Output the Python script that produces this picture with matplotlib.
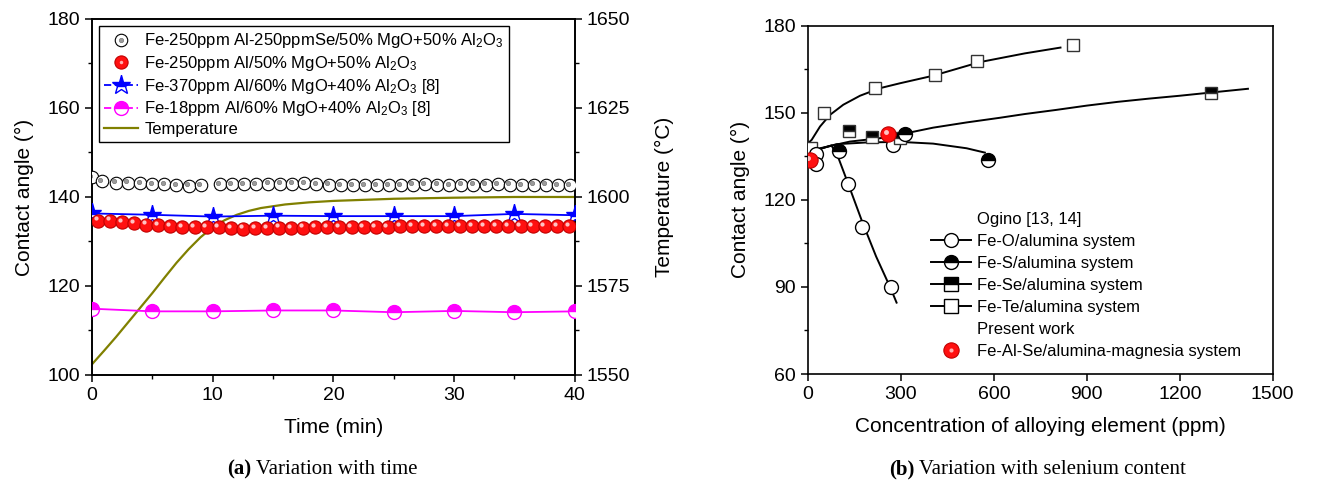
import matplotlib
matplotlib.use('Agg')
import matplotlib.pyplot as plt
from matplotlib.lines import Line2D
from matplotlib.legend_handler import HandlerTuple
from matplotlib.transforms import offset_copy
from matplotlib.ticker import MultipleLocator

plt.rcParams['font.family'] = ['Liberation Sans', 'DejaVu Sans']
plt.rcParams['mathtext.fontset'] = 'custom'
plt.rcParams['mathtext.rm'] = 'Liberation Sans'
plt.rcParams['mathtext.default'] = 'regular'

# ---------------- (a) contact angle vs time ----------------
se_t = [0, 0.8, 2, 3, 4, 5, 6, 7, 8, 9,
        10.6, 11.6, 12.6, 13.6, 14.6, 15.6, 16.6, 17.6, 18.6, 19.6,
        20.6, 21.6, 22.6, 23.6, 24.6, 25.6, 26.6, 27.6, 28.6, 29.6,
        30.6, 31.6, 32.6, 33.6, 34.6, 35.6, 36.6, 37.6, 38.6, 39.6]
se_ang = [144.4, 143.5, 143.2, 143.2, 143.1, 142.9, 142.9, 142.7, 142.5, 142.6,
          142.9, 142.9, 142.9, 142.9, 143.0, 143.0, 143.0, 143.1, 142.9, 142.8,
          142.7, 142.6, 142.6, 142.6, 142.6, 142.7, 142.8, 142.9, 142.8, 142.7,
          142.8, 142.8, 142.8, 142.9, 142.8, 142.7, 142.8, 142.8, 142.7, 142.7]

al_t = [0.5, 1.5, 2.5, 3.5, 4.5, 5.5, 6.5, 7.5, 8.5, 9.5,
        10.5, 11.5, 12.5, 13.5, 14.5, 15.5, 16.5, 17.5, 18.5, 19.5,
        20.5, 21.5, 22.5, 23.5, 24.5, 25.5, 26.5, 27.5, 28.5, 29.5,
        30.5, 31.5, 32.5, 33.5, 34.5, 35.5, 36.5, 37.5, 38.5, 39.5]
al_ang = [134.7, 134.7, 134.4, 134.1, 133.8, 133.6, 133.5, 133.2, 133.2, 133.2,
          133.2, 133.0, 132.9, 133.0, 133.0, 133.1, 133.0, 133.1, 133.2, 133.2,
          133.2, 133.2, 133.2, 133.2, 133.3, 133.4, 133.5, 133.5, 133.5, 133.5,
          133.5, 133.4, 133.4, 133.4, 133.4, 133.4, 133.4, 133.4, 133.4, 133.4]

ref370_t = [0, 5, 10, 15, 20, 25, 30, 35, 40]
ref370_ang = [136.3, 136.0, 135.6, 135.8, 135.7, 135.7, 135.7, 136.2, 135.9]

ref18_t = [0, 5, 10, 15, 20, 25, 30, 35, 40]
ref18_ang = [114.9, 114.3, 114.3, 114.5, 114.5, 114.1, 114.4, 114.1, 114.3]

temp_t = [0, 1, 2, 3, 4, 5, 6, 7, 8, 9, 10, 11, 12, 13, 14, 15, 16, 18, 20, 22.5, 25, 30, 35, 40]
temp_c = [1553.0, 1556.8, 1560.7, 1564.8, 1568.9, 1573.0, 1577.3, 1581.5, 1585.3, 1588.7,
          1591.5, 1593.5, 1595.0, 1596.1, 1596.9, 1597.4, 1597.9, 1598.5, 1598.9, 1599.2,
          1599.5, 1599.8, 1600.0, 1600.0]

# ---------------- (b) contact angle vs concentration ----------------
o_ppm = [25, 25, 130, 175, 267, 275]
o_ang = [135.8, 132.4, 125.4, 110.8, 90.1, 139.0]
o_fit_ppm = [0, 40, 76, 100, 130, 175, 220, 267, 286]
o_fit_ang = [136.0, 137.6, 138.8, 134.0, 125.5, 112.5, 100.5, 89.5, 84.6]

s_ppm = [101, 314, 582]
s_ang = [136.9, 142.8, 133.8]
s_fit_ppm = [0, 39, 92, 189, 297, 404, 512, 571]
s_fit_ang = [136.0, 137.6, 139.2, 139.8, 140.0, 139.4, 137.8, 136.3]

sel_ppm = [132, 206, 297, 1300]
sel_ang = [143.6, 141.6, 141.3, 157.0]
sel_fit_ppm = [0, 39, 135, 243, 318, 404, 512, 619, 700, 800, 900, 1000, 1100, 1200, 1300, 1420]
sel_fit_ang = [136.0, 137.8, 140.1, 141.4, 143.0, 144.9, 146.7, 148.3, 149.6, 151.0,
               152.5, 153.8, 154.9, 155.9, 157.0, 158.3]

te_ppm = [10, 52, 216, 411, 547, 855]
te_ang = [138.0, 149.8, 158.6, 163.0, 168.0, 173.3]
te_fit_ppm = [0, 12, 39, 71, 114, 168, 232, 297, 404, 555, 700, 815]
te_fit_ang = [139.5, 140.7, 145.3, 149.3, 152.8, 155.9, 158.5, 160.2, 162.8, 167.5, 170.5, 172.5]

pw_ppm = [6, 259]
pw_ang = [133.7, 142.8]

fig = plt.figure(figsize=(13.23, 4.87), dpi=100)
ax1 = fig.add_axes([0.0695, 0.230, 0.365, 0.731])
ax1t = ax1.twinx()
ax2 = fig.add_axes([0.6107, 0.232, 0.3513, 0.715])

def sphere(ax, x, y, color, ms, edge):
    ax.plot(x, y, 'o', ms=ms, mfc=color, mec=edge, mew=0.8, ls='none', zorder=5)
    hl = offset_copy(ax.transData, fig=fig, x=-1.6, y=1.6, units='points')
    ax.plot(x, y, 'o', ms=ms * 0.32, mfc='white', mec='none', alpha=0.75,
            transform=hl, zorder=6)

# temperature on the twin axis, drawn first so markers sit above
ax1t.plot(temp_t, temp_c, color='#808000', lw=1.6)
ax1t.set_ylim(1550, 1650)
ax1t.yaxis.set_major_locator(MultipleLocator(25))
ax1t.yaxis.set_minor_locator(MultipleLocator(12.5))
ax1t.set_ylabel('Temperature (°C)', fontsize=15, labelpad=18)
ax1t.tick_params(axis='y', which='major', labelsize=14, length=5, width=1.1, direction='out')
ax1t.tick_params(axis='y', which='minor', length=3, width=1.0, direction='out')
ax1.set_zorder(ax1t.get_zorder() + 1)
ax1.patch.set_visible(False)

ax1.plot(se_t, se_ang, 'o', ms=9, mfc='white', mec='black', mew=0.8, ls='none', zorder=4)
dot = offset_copy(ax1.transData, fig=fig, x=-1.2, y=1.0, units='points')
ax1.plot(se_t, se_ang, 'o', ms=3.2, mfc='#9a9a9a', mec='#6a6a6a', mew=0.4, ls='none',
         transform=dot, zorder=4)
sphere(ax1, al_t, al_ang, '#ff1010', 9.5, '#c00000')
ax1.plot(ref370_t, ref370_ang, '-', color='#0000ff', lw=1.3, marker='*', ms=14,
         mfc='#0000ff', mfcalt='white', fillstyle='top', mec='#0000ff', mew=1.0, zorder=4)
ax1.plot(ref18_t, ref18_ang, '-', color='#ff00ff', lw=1.3, marker='o', ms=10,
         mfc='#ff00ff', mfcalt='white', fillstyle='top', mec='#ff00ff', mew=1.0, zorder=4)

ax1.set_xlim(0, 40)
ax1.set_ylim(100, 180)
ax1.xaxis.set_major_locator(MultipleLocator(10))
ax1.xaxis.set_minor_locator(MultipleLocator(5))
ax1.yaxis.set_major_locator(MultipleLocator(20))
ax1.yaxis.set_minor_locator(MultipleLocator(10))
ax1.tick_params(which='major', labelsize=14, length=5, width=1.1, direction='out')
ax1.tick_params(which='minor', length=3, width=1.0, direction='out')
ax1.set_xlabel('Time (min)', fontsize=15, labelpad=10)
ax1.set_ylabel('Contact angle (°)', fontsize=15, labelpad=10)
for a in (ax1, ax1t):
    for sp in a.spines.values():
        sp.set_linewidth(1.2)

overlay = {tuple: HandlerTuple(ndivide=1, pad=0)}

h_se = (Line2D([], [], marker='o', ls='none', ms=9, mfc='white', mec='black', mew=0.8),
        Line2D([], [], marker='o', ls='none', ms=3.2, mfc='#9a9a9a', mec='#6a6a6a', mew=0.4))
h_al = (Line2D([], [], marker='o', ls='none', ms=9.5, mfc='#ff1010', mec='#c00000', mew=0.8),
        Line2D([], [], marker='o', ls='none', ms=2.5, mfc='#ffb0b0', mec='none'))
h_370 = Line2D([], [], color='#0000ff', lw=1.3, ls=(0, (4, 2)), marker='*', ms=14,
               mfc='#0000ff', mfcalt='white', fillstyle='top', mec='#0000ff')
h_18 = Line2D([], [], color='#ff00ff', lw=1.3, ls=(0, (4, 2)), marker='o', ms=10,
              mfc='#ff00ff', mfcalt='white', fillstyle='top', mec='#ff00ff')
h_temp = Line2D([], [], color='#808000', lw=1.6)
leg1 = ax1.legend([h_se, h_al, h_370, h_18, h_temp],
                  ['Fe-250ppm Al-250ppmSe/50% MgO+50% Al$_2$O$_3$',
                   'Fe-250ppm Al/50% MgO+50% Al$_2$O$_3$',
                   'Fe-370ppm Al/60% MgO+40% Al$_2$O$_3$ [8]',
                   'Fe-18ppm Al/60% MgO+40% Al$_2$O$_3$ [8]',
                   'Temperature'],
                  handler_map=overlay,
                  loc='upper left', bbox_to_anchor=(0.0, 1.0), borderaxespad=0.45,
                  fontsize=12, frameon=True, fancybox=False, edgecolor='black',
                  framealpha=1, handlelength=2.0, handletextpad=0.4,
                  labelspacing=0.22, borderpad=0.3)
leg1.get_frame().set_linewidth(1.0)

# ---------------- (b) ----------------
ax2.plot(o_fit_ppm, o_fit_ang, color='black', lw=1.4, zorder=2)
ax2.plot(s_fit_ppm, s_fit_ang, color='black', lw=1.4, zorder=2)
ax2.plot(sel_fit_ppm, sel_fit_ang, color='black', lw=1.4, zorder=2)
ax2.plot(te_fit_ppm, te_fit_ang, color='black', lw=1.4, zorder=2)

ax2.plot(te_ppm, te_ang, 's', ms=9, mfc='white', mec='#333333', mew=1.0, ls='none', zorder=3)
ax2.plot(o_ppm, o_ang, 'o', ms=10, mfc='white', mec='black', mew=1.0, ls='none', zorder=3)
ax2.plot(sel_ppm, sel_ang, 's', ms=9, mfc='black', mfcalt='white', fillstyle='top',
         mec='#333333', mew=1.0, ls='none', zorder=3)
ax2.plot(s_ppm, s_ang, 'o', ms=10, mfc='black', mfcalt='white', fillstyle='top',
         mec='black', mew=1.0, ls='none', zorder=3)
sphere(ax2, pw_ppm, pw_ang, '#ff1010', 11, '#c00000')

ax2.set_xlim(0, 1500)
ax2.set_ylim(60, 180)
ax2.xaxis.set_major_locator(MultipleLocator(300))
ax2.yaxis.set_major_locator(MultipleLocator(30))
ax2.yaxis.set_minor_locator(MultipleLocator(15))
ax2.tick_params(which='major', labelsize=14, length=5, width=1.1, direction='out')
ax2.tick_params(which='minor', length=3, width=1.0, direction='out')
ax2.set_xlabel('Concentration of alloying element (ppm)', fontsize=15, labelpad=10)
ax2.set_ylabel('Contact angle (°)', fontsize=15, labelpad=10)
for sp in ax2.spines.values():
    sp.set_linewidth(1.2)

blank = Line2D([], [], ls='none', marker=None)
hk = dict(color='black', lw=1.4, ms=10, mec='black', mew=1.0)
h_o = Line2D([], [], marker='o', mfc='white', **hk)
h_s = Line2D([], [], marker='o', mfc='black', mfcalt='white', fillstyle='top', **hk)
h_sel = Line2D([], [], marker='s', mfc='black', mfcalt='white', fillstyle='top', **hk)
h_te = Line2D([], [], marker='s', mfc='white', **hk)
h_pw = (Line2D([], [], marker='o', ls='none', ms=11, mfc='#ff1010', mec='#c00000', mew=0.8),
        Line2D([], [], marker='o', ls='none', ms=3, mfc='#ffb0b0', mec='none'))
ax2.legend([blank, h_o, h_s, h_sel, h_te, blank, h_pw],
           ['Ogino [13, 14]', 'Fe-O/alumina system', 'Fe-S/alumina system',
            'Fe-Se/alumina system', 'Fe-Te/alumina system', 'Present work',
            'Fe-Al-Se/alumina-magnesia system'],
           handler_map=overlay,
           loc='upper left', bbox_to_anchor=(0.24, 0.50), fontsize=12, frameon=False,
           handlelength=2.4, handletextpad=0.35, labelspacing=0.42, borderpad=0.2)

# captions
fig.text(0.19, 0.035, '(a)', fontsize=15, fontweight='bold', ha='right', va='center',
         family=['Liberation Serif'])
fig.text(0.19, 0.035, ' Variation with time', fontsize=15, ha='left', va='center',
         family=['Liberation Serif'])
fig.text(0.691, 0.035, '(b)', fontsize=15, fontweight='bold', ha='right', va='center',
         family=['Liberation Serif'])
fig.text(0.691, 0.035, ' Variation with selenium content', fontsize=15, ha='left', va='center',
         family=['Liberation Serif'])

fig.savefig('out.png', dpi=100)
